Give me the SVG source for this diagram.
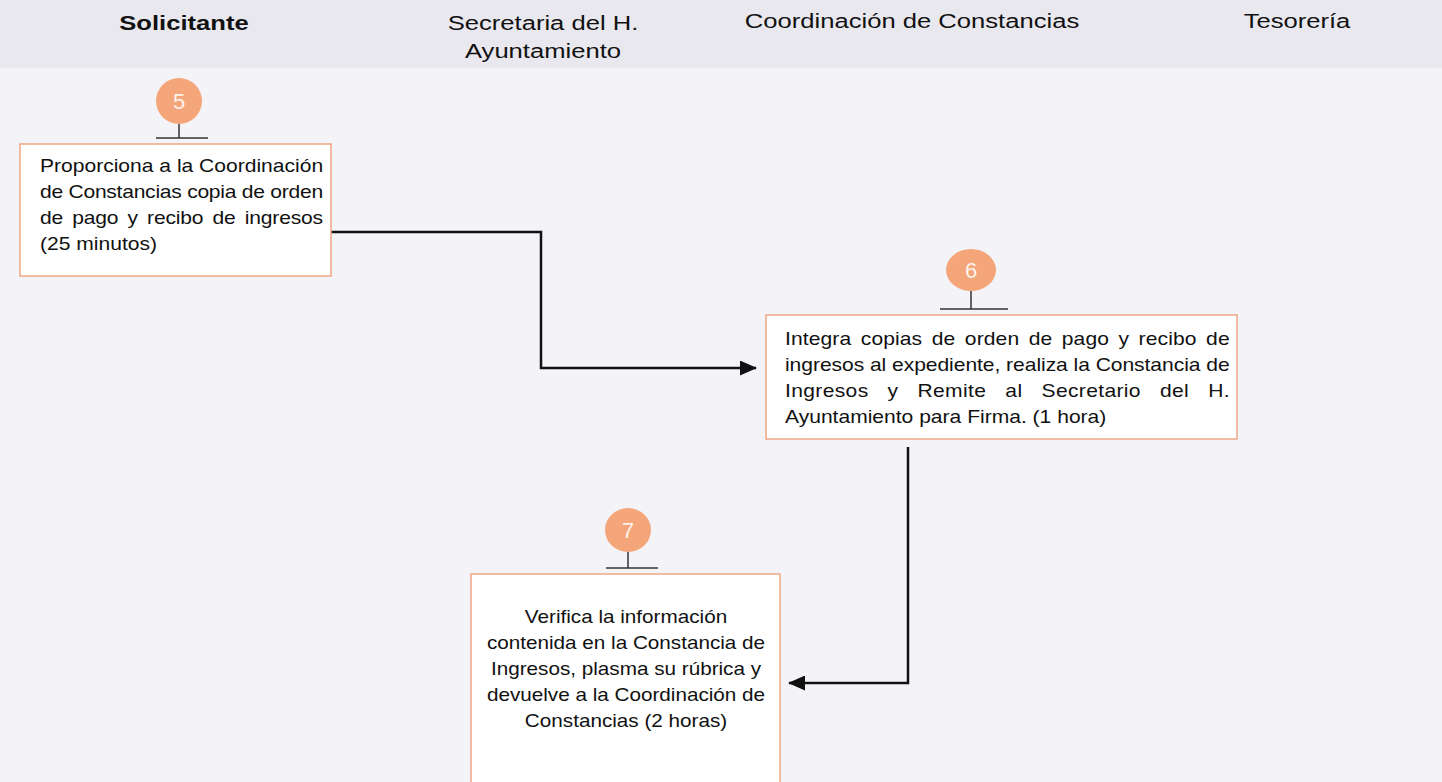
<svg xmlns="http://www.w3.org/2000/svg" width="1442" height="782" viewBox="0 0 1442 782">
<defs>
<marker id="arr" markerWidth="17" markerHeight="15" refX="16" refY="7.5" orient="auto" markerUnits="userSpaceOnUse" viewBox="0 0 17 15">
<path d="M0,0 L17,7.5 L0,15 Z" fill="#111"/>
</marker>
<style>
.hdr{font-family:"Liberation Sans",Arial,sans-serif;font-size:21px;fill:#111;text-anchor:middle}
.box{fill:#ffffff;stroke:#f0a684;stroke-width:1.5}
.num{fill:#f4a579}
.numt{font-family:"Liberation Sans",Arial,sans-serif;font-size:22px;fill:#fdf3ec;text-anchor:middle}
.tick{stroke:#333;stroke-width:1.5;fill:none}
.t{font-family:"Liberation Sans",Arial,sans-serif;font-size:18px;fill:#111}
.c{text-anchor:middle}
.conn{stroke:#111;stroke-width:2.5;fill:none}
</style>
</defs>
<rect x="0" y="0" width="1442" height="782" fill="#f4f3f8"/>
<rect x="0" y="0" width="1442" height="68" fill="#e9e8ef"/>
<g id="headers">
<text class="hdr" transform="translate(184,30) scale(1.22,1)" font-weight="bold">Solicitante</text>
<text class="hdr" transform="translate(543,30) scale(1.22,1)">Secretaria del H.</text>
<text class="hdr" transform="translate(543,58) scale(1.22,1)">Ayuntamiento</text>
<text class="hdr" transform="translate(912,28) scale(1.22,1)">Coordinación de Constancias</text>
<text class="hdr" transform="translate(1297,28) scale(1.22,1)">Tesorería</text>
</g>
<g id="connectors">
<polyline class="conn" points="331,232 541,232 541,368 756,368" marker-end="url(#arr)"/>
<polyline class="conn" points="908,447 908,683 789,683" marker-end="url(#arr)"/>
</g>
<g id="node5">
<rect class="box" x="20" y="144" width="311" height="132"/>
<ellipse class="num" cx="179" cy="101" rx="23" ry="23"/>
<text class="numt" x="179" y="109">5</text>
<line class="tick" x1="179" y1="124" x2="179" y2="138"/>
<line class="tick" x1="156" y1="138" x2="208" y2="138"/>
<g transform="translate(40,0) scale(1.17,1)">
<text class="t" x="0" y="172" textLength="242" lengthAdjust="spacing">Proporciona a la Coordinación</text>
<text class="t" x="0" y="198" textLength="242" lengthAdjust="spacing">de Constancias copia de orden</text>
<text class="t" x="0" y="224" textLength="242" lengthAdjust="spacing" word-spacing="3">de pago y recibo de ingresos</text>
<text class="t" x="0" y="250">(25 minutos)</text>
</g>
</g>
<g id="node6">
<rect class="box" x="766" y="315" width="471" height="124"/>
<ellipse class="num" cx="971" cy="270" rx="25" ry="21"/>
<text class="numt" x="971" y="278">6</text>
<line class="tick" x1="971" y1="291" x2="971" y2="309"/>
<line class="tick" x1="940" y1="309" x2="1008" y2="309"/>
<g transform="translate(785,0) scale(1.17,1)">
<text class="t" x="0" y="345" textLength="380" lengthAdjust="spacing" word-spacing="3">Integra copias de orden de pago y recibo de</text>
<text class="t" x="0" y="371" textLength="380" lengthAdjust="spacing">ingresos al expediente, realiza la Constancia de</text>
<text class="t" x="0" y="397" textLength="380" lengthAdjust="spacing" word-spacing="11">Ingresos y Remite al Secretario del H.</text>
<text class="t" x="0" y="423">Ayuntamiento para Firma. (1 hora)</text>
</g>
</g>
<g id="node7">
<rect class="box" x="471" y="574" width="309" height="215"/>
<ellipse class="num" cx="628" cy="530" rx="23" ry="22"/>
<text class="numt" x="628" y="538">7</text>
<line class="tick" x1="628" y1="552" x2="628" y2="568"/>
<line class="tick" x1="606" y1="568" x2="658" y2="568"/>
<g transform="translate(626,0) scale(1.15,1)">
<text class="t c" x="0" y="623">Verifica la información</text>
<text class="t c" x="0" y="649">contenida en la Constancia de</text>
<text class="t c" x="0" y="675">Ingresos, plasma su rúbrica y</text>
<text class="t c" x="0" y="701">devuelve a la Coordinación de</text>
<text class="t c" x="0" y="727">Constancias (2 horas)</text>
</g>
</g>
</svg>
